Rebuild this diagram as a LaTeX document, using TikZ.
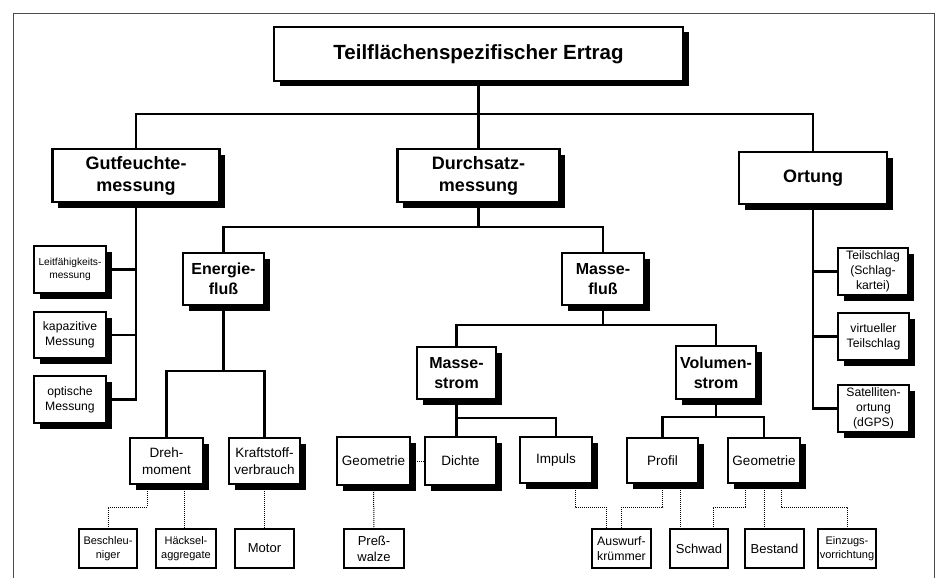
\documentclass[tikz,border=0pt]{standalone}
\usepackage{fontspec}
\setmainfont{Liberation Sans}
\usetikzlibrary{shadows}

\tikzset{
  wh/.style 2 args={minimum width=#1pt, minimum height=#2pt},
  plainbox/.style={draw, line width=2.3pt, fill=white, align=center, inner sep=0pt},
  box/.style={plainbox, drop shadow={shadow xshift=5.5pt, shadow yshift=-5.5pt, fill=black, opacity=1}},
  headbox/.style={box, font=\fontsize{20.5}{24}\selectfont\bfseries},
  mainbox/.style={box, font=\fontsize{18}{22}\selectfont\bfseries},
  subbox/.style={box, font=\fontsize{16}{20}\selectfont\bfseries},
  partbox/.style={box, font=\fontsize{13.5}{16.5}\selectfont},
  sidebox/.style={box, font=\fontsize{12.2}{14.8}\selectfont},
  leafbox/.style={plainbox, font=\fontsize{13}{16}\selectfont},
  tinybox/.style={plainbox, font=\fontsize{11}{14}\selectfont},
  link/.style={line width=2.1pt},
  dots/.style={line width=1pt, dash pattern=on 1pt off 1pt},
}

\begin{document}
\begin{tikzpicture}[x=1pt, y=-1pt]
	\useasboundingbox (0,0) rectangle (938,578);
	\draw[line width=1pt, black!70] (13,578) -- (13,14) -- (934,14) -- (934,578);
	
	% upper levels
	\node[headbox, wh={409}{54}] (ertrag) at (478.5,54) {Teilflächenspezifischer Ertrag};
	\node[mainbox, wh={167}{53}] (gut) at (136,175.5) {Gutfeuchte-\\messung};
	\node[mainbox, wh={162}{53}] (durch) at (478.5,175.5) {Durchsatz-\\messung};
	\node[mainbox, wh={148}{52}] (ort) at (813,178) {Ortung};
	
	% side columns
	\node[sidebox, wh={72}{47}, font=\fontsize{10.2}{12.5}\selectfont] (leit) at (70,269.5) {Leitfähigkeits-\\messung};
	\node[sidebox, wh={72}{46}] (kapa) at (70,335) {kapazitive\\Messung};
	\node[sidebox, wh={72}{47}] (opt) at (70,399.5) {optische\\Messung};
	\node[sidebox, wh={70}{47}] (teil) at (873,271.5) {Teilschlag\\(Schlag-\\kartei)};
	\node[sidebox, wh={71}{47}] (virt) at (873.5,336.5) {virtueller\\Teilschlag};
	\node[sidebox, wh={71}{47}] (sat) at (873.5,408.5) {Satelliten-\\ortung\\(dGPS)};
	
	% Durchsatz
	\node[subbox, wh={81}{52}] (energie) at (223.5,279) {Energie-\\fluß};
	\node[subbox, wh={82}{52}] (masse) at (603,279) {Masse-\\fluß};
	\node[subbox, wh={79}{52}] (mstrom) at (456.5,373) {Masse-\\strom};
	\node[subbox, wh={80}{53}] (vstrom) at (716,372.5) {Volumen-\\strom};
	
	\node[partbox, wh={73}{46}] (dreh) at (166.5,461) {Dreh-\\moment};
	\node[partbox, wh={71}{46}] (kraft) at (264.5,461) {Kraftstoff-\\verbrauch};
	\node[partbox, wh={73}{48}] (geoL) at (373.5,461) {Geometrie};
	\node[partbox, wh={71}{48}] (dichte) at (460.5,461) {Dichte};
	\node[partbox, wh={72}{46}] (impuls) at (556,460) {Impuls};
	\node[partbox, wh={71}{45}] (profil) at (662.5,460.5) {Profil};
	\node[partbox, wh={72}{45}] (geoR) at (764,460.5) {Geometrie};
	
	% bottom row
	\node[tinybox, wh={58}{39}] (besch) at (108,548.5) {Beschleu-\\niger};
	\node[tinybox, wh={60}{39}] (haeck) at (186,548.5) {Häcksel-\\aggregate};
	\node[leafbox, wh={59}{39}] (motor) at (264.5,548.5) {Motor};
	\node[leafbox, wh={60}{39}] (press) at (374,548.5) {Preß-\\walze};
	\node[leafbox, wh={59}{39}, font=\fontsize{12.3}{15}\selectfont] (ausw) at (621.5,548.5) {Auswurf-\\krümmer};
	\node[leafbox, wh={58}{39}] (schwad) at (699,548.5) {Schwad};
	\node[leafbox, wh={59}{39}] (bestand) at (774.5,548.5) {Bestand};
	\node[tinybox, wh={58}{39}] (einzug) at (847,548.5) {Einzugs-\\vorrichtung};
	
	% solid links
	\draw[link] (ertrag.south) -- (durch.north);
	\draw[link] (gut.north) -- +(0,-34) -| (ort.north);
	\draw[link] (gut.south) |- (leit.east);
	\draw[link] (gut.south) |- (kapa.east);
	\draw[link] (gut.south) |- (opt.east);
	\draw[link] (ort.south) |- (teil.west);
	\draw[link] (ort.south) |- (virt.west);
	\draw[link] (ort.south) |- (sat.west);
	\draw[link] (durch.south) -- +(0,24) -| (energie.north);
	\draw[link] (durch.south) -- +(0,24) -| (masse.north);
	\draw[link] (energie.south) -- +(0,65) -| (dreh.north);
	\draw[link] (energie.south) -- +(0,65) -| (kraft.north);
	\draw[link] (masse.south) -- +(0,19) -| (mstrom.north);
	\draw[link] (masse.south) -- +(0,19) -| (vstrom.north);
	\draw[link] (mstrom.south) -- ([xshift=-4pt]dichte.north);
	\draw[link] (mstrom.south) -- +(0,18) -| (impuls.north);
	\draw[link] (vstrom.south) -- +(0,17) -| (profil.north);
	\draw[link] (vstrom.south) -- +(0,17) -| (geoR.north);
	
	% dotted links
	\draw[dots] (geoL.east) -- (dichte.west);
	\draw[dots] ([xshift=-19.5pt]dreh.south) -- +(0,22) -| (besch.north);
	\draw[dots] ([xshift=17.5pt]dreh.south) -- ([xshift=-2pt]haeck.north);
	\draw[dots] (kraft.south) -- (motor.north);
	\draw[dots] (geoL.south) -- (press.north);
	\draw[dots] ([xshift=19pt]impuls.south) -- +(0,23) -| ([xshift=-15.5pt]ausw.north);
	\draw[dots] (profil.south) -- +(0,23) -| (ausw.north);
	\draw[dots] ([xshift=17.5pt]profil.south) -- ([xshift=-19pt]schwad.north);
	\draw[dots] ([xshift=-19pt]geoR.south) -- +(0,23) -| ([xshift=14pt]schwad.north);
	\draw[dots] (geoR.south) -- ([xshift=-10.5pt]bestand.north);
	\draw[dots] ([xshift=17pt]geoR.south) -- +(0,23) -| (einzug.north);
\end{tikzpicture}
\end{document}
